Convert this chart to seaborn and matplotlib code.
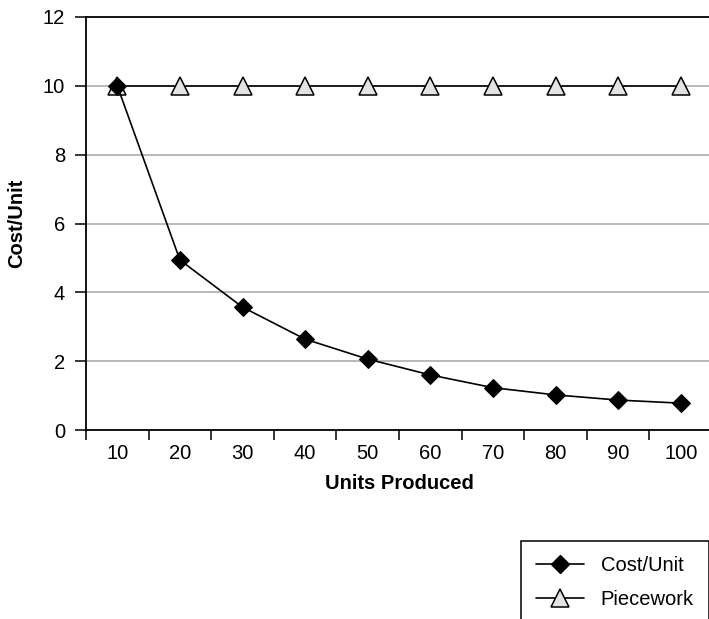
import matplotlib
matplotlib.use("Agg")
import matplotlib.pyplot as plt
from matplotlib.lines import Line2D
import seaborn as sns
import pandas as pd
import numpy as np

units = ["10", "20", "30", "40", "50", "60", "70", "80", "90", "100"]
cost_per_unit = [10.0, 4.94, 3.57, 2.64, 2.06, 1.60, 1.23, 1.02, 0.87, 0.78]
piecework = [10, 10, 10, 10, 10, 10, 10, 10, 10, 10]
y_ticks = [0, 2, 4, 6, 8, 10, 12]

sns.set_style("white")
plt.rcParams["font.family"] = ["Liberation Sans", "DejaVu Sans"]
plt.rcParams["text.color"] = "black"
plt.rcParams["axes.labelcolor"] = "black"
plt.rcParams["xtick.color"] = "black"
plt.rcParams["ytick.color"] = "black"

df = pd.DataFrame({"units": units, "cost": cost_per_unit, "piece": piecework})

W, H = 709, 619
fig = plt.figure(figsize=(W / 100, H / 100), dpi=100)
ax = fig.add_axes([86 / W, (H - 430) / H, 626 / W, 413 / H])

for y in y_ticks[1:-1]:
    ax.axhline(y, color="#a6a6a6", lw=1.1, zorder=0)

sns.lineplot(data=df, x="units", y="piece", ax=ax, color="black", lw=1.2,
             marker="^", markersize=13, markerfacecolor="#e3e3e3",
             markeredgecolor="black", markeredgewidth=1.1, sort=False, zorder=3)
sns.lineplot(data=df, x="units", y="cost", ax=ax, color="black", lw=1.2,
             marker="D", markersize=9.5, markerfacecolor="black",
             markeredgecolor="black", sort=False, zorder=4)

ax.set_xlim(-0.5, len(units) - 0.5)
ax.set_ylim(0, 12)
ax.set_yticks(y_ticks)
ax.set_xticks(range(len(units)))
ax.set_xticklabels(units)
ax.set_xticks(np.arange(-0.5, len(units), 1.0), minor=True)
ax.tick_params(axis="x", which="major", bottom=True, length=0, pad=10, labelsize=14.5)
ax.tick_params(axis="x", which="minor", bottom=True, length=7.5, width=1.1,
               direction="out", color="black")
ax.tick_params(axis="y", which="major", left=True, length=8, width=1.1, direction="out",
               color="black", labelsize=14.5, pad=7)

for side in ["left", "bottom", "top"]:
    ax.spines[side].set_visible(True)
    ax.spines[side].set_color("black")
    ax.spines[side].set_linewidth(1.3)
ax.spines["right"].set_visible(False)

ax.set_xlabel("Units Produced", fontsize=14.5, fontweight="bold", labelpad=8)
ax.set_ylabel("Cost/Unit", fontsize=14.5, fontweight="bold", labelpad=12)

handles = [
    Line2D([], [], color="black", lw=1.2, marker="D", markersize=9.5,
           markerfacecolor="black", markeredgecolor="black"),
    Line2D([], [], color="black", lw=1.2, marker="^", markersize=13,
           markerfacecolor="#e3e3e3", markeredgecolor="black", markeredgewidth=1.1),
]
leg = fig.legend(handles, ["Cost/Unit", "Piecework"], loc="upper left",
                 bbox_to_anchor=(521 / W, 1 - 541 / H), frameon=True, fancybox=False,
                 edgecolor="black", framealpha=1, fontsize=14.5, handlelength=2.4,
                 handletextpad=0.8, labelspacing=0.75, borderpad=0.75, borderaxespad=0)
leg.get_frame().set_linewidth(1.1)

fig.savefig("out.png", dpi=100)
